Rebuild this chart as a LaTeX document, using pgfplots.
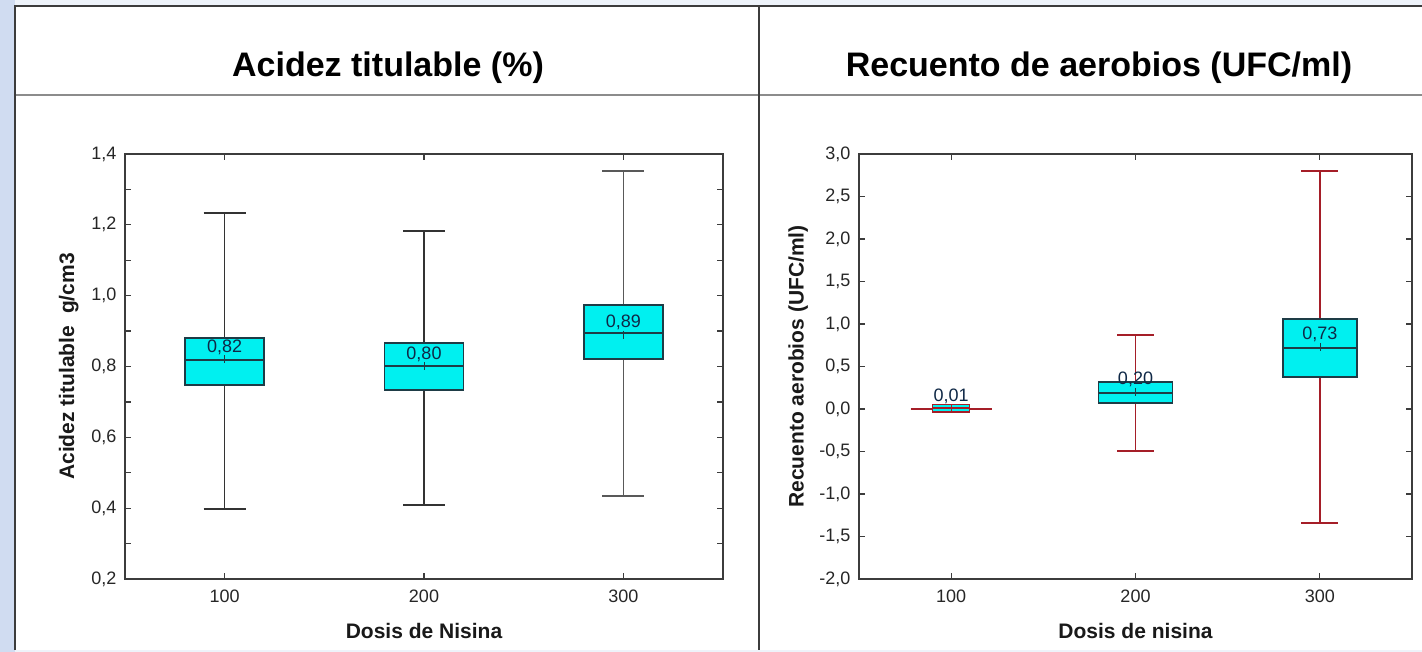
\documentclass[border=0pt]{standalone}
\usepackage{fontspec}
\setmainfont{Liberation Sans}
\usepackage{pgfplots}
\pgfplotsset{compat=1.18}
\usepgfplotslibrary{statistics}

\definecolor{boxfill}{RGB}{0,240,240}
\definecolor{boxline}{RGB}{30,60,70}
\definecolor{wred}{RGB}{165,30,40}
\definecolor{lbl}{RGB}{15,40,70}
\definecolor{axgray}{RGB}{60,60,60}
\definecolor{bgblue}{RGB}{208,220,241}

\tikzset{vlab/.style={font=\fontsize{18}{21}\selectfont, text=lbl, anchor=base, yshift=7pt, inner sep=0pt}}

\pgfplotsset{
  myax/.style={
    scale only axis, anchor=south west,
    xmin=0.5, xmax=3.5, xtick={1,2,3}, xticklabels={100,200,300},
    axis line style={axgray, line width=1.7pt},
    tick style={axgray, line width=1.3pt},
    major tick length=6pt, minor tick length=6pt,
    tick label style={font=\fontsize{18}{21}\selectfont, text=black!85},
    /pgf/number format/assume math mode=true,
    /pgf/number format/use comma,
    /pgf/number format/fixed,
    /pgf/number format/fixed zerofill,
    /pgf/number format/precision=1,
    xticklabel style={yshift=-7pt},
    yticklabel style={xshift=-5pt},
    label style={font=\fontsize{21}{25}\selectfont\bfseries, text=black!90},
    xlabel style={at={(axis description cs:0.5,-0.122)}, anchor=center},
    boxplot/draw direction=y,
    boxplot/every box/.style={draw=boxline, fill=boxfill, line width=1.6pt},
    boxplot/every median/.style={draw=boxline, line width=1.5pt},
    boxplot/every average/.style={/tikz/mark=|, /tikz/mark size=4pt, /tikz/mark options={draw=boxline, line width=1.2pt}},
  },
}

\begin{document}
\begin{tikzpicture}
\useasboundingbox (0pt,0pt) rectangle (1422pt,652pt);
\fill[bgblue!35] (0pt,0pt) rectangle (1422pt,652pt);
\fill[bgblue] (0pt,0pt) rectangle (15pt,652pt);
\fill[white] (15pt,2pt) rectangle (1422pt,646pt);
\draw[black!45, line width=1.8pt] (15pt,557pt) -- (1422pt,557pt);
\draw[axgray, line width=2pt] (15pt,2pt) -- (15pt,646pt) -- (1422pt,646pt);
\draw[axgray, line width=2pt] (759pt,2pt) -- (759pt,646pt);
\node[font=\fontsize{34}{40}\selectfont\bfseries] at (388pt,584pt) {Acidez titulable (\%)};
\node[font=\fontsize{34}{40}\selectfont\bfseries] at (1099pt,584pt) {Recuento de aerobios (UFC/ml)};

% Left panel
\begin{axis}[myax, at={(125pt,73pt)}, width=598pt, height=425pt,
  ymin=0.2, ymax=1.4,
  ytick={0.2,0.4,0.6,0.8,1.0,1.2,1.4},
  minor ytick={0.3,0.5,0.7,0.9,1.1,1.3},
  xlabel={Dosis de Nisina},
  ylabel={Acidez titulable\ \ g/cm3},
  ylabel style={at={(axis description cs:-0.094,0.5)}, anchor=center},
  boxplot/every whisker/.style={draw=black!80, line width=1.5pt},
]
\addplot[draw=boxline, boxplot prepared={lower whisker=0.398, lower quartile=0.748, median=0.818, upper quartile=0.880, upper whisker=1.233, average=0.82, draw position=1, box extend=0.395, whisker extend=0.21}] coordinates {};
\addplot[draw=boxline, boxplot prepared={lower whisker=0.409, lower quartile=0.734, median=0.801, upper quartile=0.866, upper whisker=1.182, average=0.80, draw position=2, box extend=0.395, whisker extend=0.21}] coordinates {};
\addplot[draw=boxline, boxplot prepared={lower whisker=0.434, lower quartile=0.821, median=0.895, upper quartile=0.974, upper whisker=1.352, average=0.89, draw position=3, box extend=0.395, whisker extend=0.21},
  boxplot/every whisker/.style={draw=black!65, line width=1.3pt}] coordinates {};
\node[vlab] at (axis cs:1,0.82) {0,82};
\node[vlab] at (axis cs:2,0.80) {0,80};
\node[vlab] at (axis cs:3,0.89) {0,89};
\end{axis}

% Right panel
\begin{axis}[myax, at={(859pt,73pt)}, width=553pt, height=425pt,
  ymin=-2, ymax=3,
  ytick={-2,-1.5,-1,-0.5,0,0.5,1,1.5,2,2.5,3},
  xlabel={Dosis de nisina},
  ylabel={Recuento aerobios (UFC/ml)},
  ylabel style={at={(axis description cs:-0.110,0.5)}, anchor=center},
  boxplot/every whisker/.style={draw=wred, line width=1.5pt},
]
\addplot[draw=wred, boxplot prepared={lower whisker=-0.005, lower quartile=-0.035, median=0.01, upper quartile=0.055, upper whisker=0.005, average=0.01, draw position=1, box extend=0.2, whisker extend=0.44},
  boxplot/every box/.style={draw=wred, fill=boxfill, line width=1.4pt},
  boxplot/every median/.style={draw=wred, line width=1.4pt},
  boxplot/every average/.style={/tikz/mark=|, /tikz/mark size=4pt, /tikz/mark options={draw=wred, line width=1.2pt}}] coordinates {};
\addplot[draw=boxline, boxplot prepared={lower whisker=-0.494, lower quartile=0.07, median=0.19, upper quartile=0.318, upper whisker=0.87, average=0.20, draw position=2, box extend=0.4, whisker extend=0.2}] coordinates {};
\addplot[draw=boxline, boxplot prepared={lower whisker=-1.34, lower quartile=0.376, median=0.72, upper quartile=1.06, upper whisker=2.8, average=0.73, draw position=3, box extend=0.4, whisker extend=0.2}] coordinates {};
\node[vlab] at (axis cs:1,0.01) {0,01};
\node[vlab] at (axis cs:2,0.20) {0,20};
\node[vlab] at (axis cs:3,0.73) {0,73};
\end{axis}
\end{tikzpicture}
\end{document}
